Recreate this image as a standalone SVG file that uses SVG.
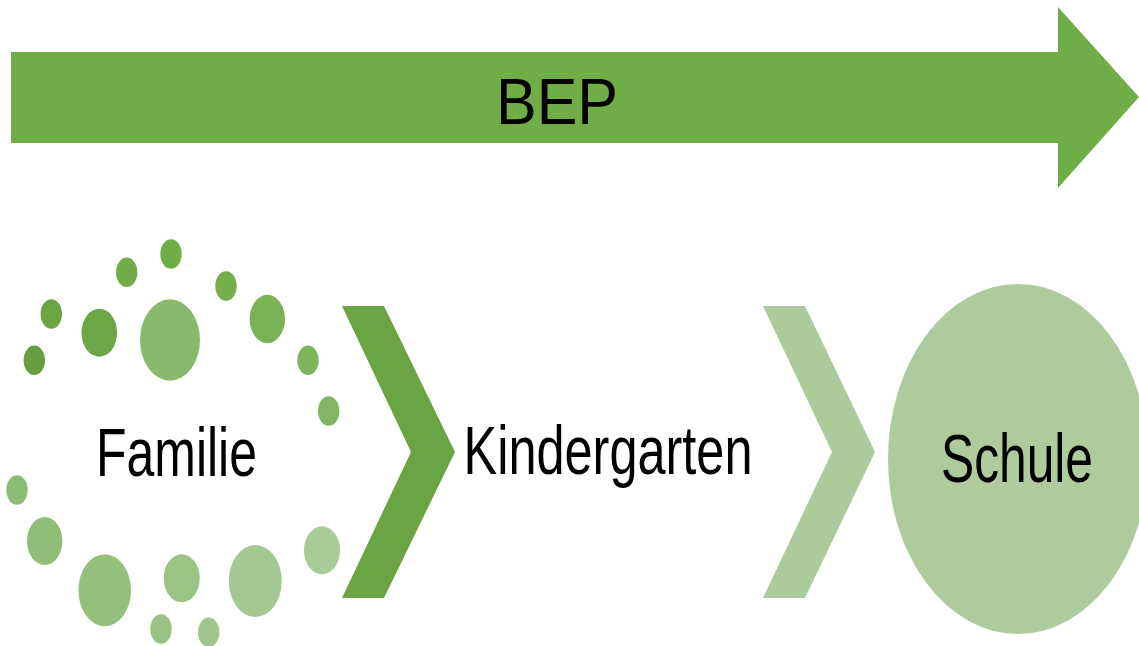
<svg xmlns="http://www.w3.org/2000/svg" width="1139" height="646" viewBox="0 0 1139 646">
<style>
.lbl{font-family:"Liberation Sans",Arial,sans-serif;fill:#000;text-anchor:middle}
.big{font-size:68px}
</style>
<rect width="1139" height="646" fill="#fff"/>
<g id="bep">
<polygon points="11,52 1058,52 1058,7 1139,97 1058,188 1058,143 11,143" fill="#70AD47"/>
<text class="lbl" x="557" y="124" font-size="64" textLength="122" lengthAdjust="spacingAndGlyphs">BEP</text>
</g>
<g id="familie">
<ellipse cx="34.3" cy="360.3" rx="10.7" ry="14.7" fill="#669E3F"/>
<ellipse cx="51.3" cy="314" rx="10.7" ry="14.7" fill="#6AA443"/>
<ellipse cx="99.3" cy="332.7" rx="17.8" ry="24" fill="#6CA646"/>
<ellipse cx="126.7" cy="272.3" rx="10.7" ry="14.7" fill="#70AC48"/>
<ellipse cx="171" cy="254" rx="10.7" ry="14.7" fill="#70AD47"/>
<ellipse cx="170" cy="340" rx="30" ry="40.7" fill="#88BA6E"/>
<ellipse cx="226" cy="286" rx="10.7" ry="14.7" fill="#74AF4C"/>
<ellipse cx="267.3" cy="319" rx="17.7" ry="24.2" fill="#7AB357"/>
<ellipse cx="308" cy="360.3" rx="10.7" ry="14.7" fill="#7DB45C"/>
<ellipse cx="328.7" cy="411" rx="10.7" ry="14.7" fill="#82B666"/>
<ellipse cx="17" cy="490" rx="10.7" ry="14.7" fill="#8CBD74"/>
<ellipse cx="44.7" cy="541" rx="17.7" ry="24" fill="#90BE78"/>
<ellipse cx="104.7" cy="590.3" rx="26.3" ry="36" fill="#94C07C"/>
<ellipse cx="181.7" cy="578.3" rx="18" ry="24" fill="#9AC384"/>
<ellipse cx="161" cy="629" rx="10.7" ry="14.7" fill="#98C281"/>
<ellipse cx="208.7" cy="632.3" rx="10.7" ry="14.7" fill="#A0C68B"/>
<ellipse cx="255.3" cy="581" rx="26.5" ry="36" fill="#A4C891"/>
<ellipse cx="322" cy="550.3" rx="18" ry="24" fill="#A9CB98"/>
<text class="lbl big" x="176.5" y="476" textLength="161" lengthAdjust="spacingAndGlyphs">Familie</text>
</g>
<g id="connectors">
<polygon points="342,306 384,306 455,452 384,598 342,598 411,452" fill="#6AA443"/>
<polygon points="763,306 805,306 875,452 805,598 763,598 832,452" fill="#ABCB9B"/>
</g>
<g id="kindergarten">
<text class="lbl big" x="608" y="474" textLength="289" lengthAdjust="spacingAndGlyphs">Kindergarten</text>
</g>
<g id="schule">
<ellipse cx="1018" cy="459" rx="130" ry="175" fill="#AECB9E"/>
<text class="lbl big" x="1017" y="482" textLength="152" lengthAdjust="spacingAndGlyphs">Schule</text>
</g>
</svg>
